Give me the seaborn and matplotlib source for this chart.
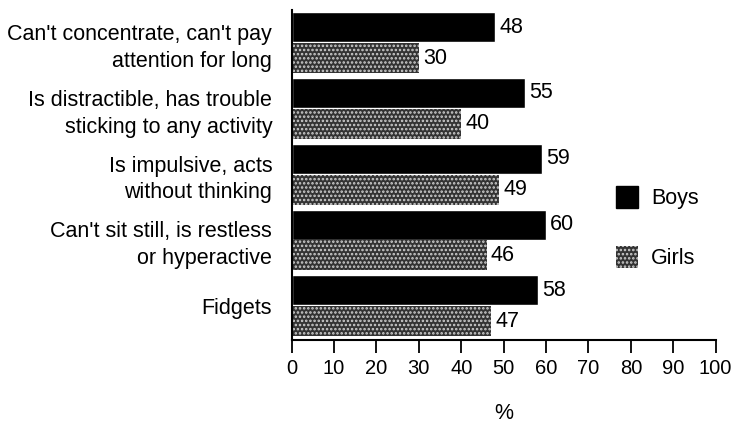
import pandas as pd
import numpy as np
import matplotlib.pyplot as plt
import seaborn as sns
from matplotlib.patches import Patch

# Data
behaviours = [
    "Can't concentrate, can't pay\nattention for long",
    "Is distractible, has trouble\nsticking to any activity",
    "Is impulsive, acts\nwithout thinking",
    "Can't sit still, is restless\nor hyperactive",
    "Fidgets",
]
boys = [48, 55, 59, 60, 58]
girls = [30, 40, 49, 46, 47]
groups = ["Boys", "Girls"]
x_ticks = list(range(0, 101, 10))

sns.set_style("white")
plt.rcParams["font.family"] = ["Liberation Sans", "DejaVu Sans"]
plt.rcParams["text.color"] = "black"
plt.rcParams["xtick.color"] = "black"
plt.rcParams["ytick.color"] = "black"
plt.rcParams["axes.labelcolor"] = "black"
plt.rcParams["hatch.linewidth"] = 1.2

FS = 15.5

df = pd.DataFrame({
    "behaviour": behaviours * 2,
    "pct": boys + girls,
    "sex": ["Boys"] * len(boys) + ["Girls"] * len(girls),
})

fig = plt.figure(figsize=(7.31, 4.26), dpi=100)
ax = fig.add_axes([0.399, 0.202, 0.58, 0.775])

sns.barplot(data=df, y="behaviour", x="pct", hue="sex", orient="h",
            palette={"Boys": "black", "Girls": "#333333"},
            width=0.94, gap=0.03, ax=ax, legend=False)

# stippled look for girls
for bar in ax.containers[1]:
    bar.set_hatch("....")
    bar.set_edgecolor("#cfcfcf")
    bar.set_linewidth(0)

for cont in ax.containers:
    ax.bar_label(cont, padding=3, fontsize=FS)

ax.set_xlim(0, 100)
ax.set_ylim(4.52, -0.5)
ax.set_xticks(x_ticks)
ax.tick_params(axis="x", direction="out", length=9, width=1.3, labelsize=14.5,
               pad=5, bottom=True)
ax.tick_params(axis="y", length=0, labelsize=FS, pad=14)
for lbl in ax.get_yticklabels():
    lbl.set_linespacing(1.35)
ax.set_ylabel("")
ax.set_xlabel("%", fontsize=FS, labelpad=18)

sns.despine(ax=ax, top=True, right=True)
for s in ["left", "bottom"]:
    ax.spines[s].set_linewidth(1.5)
    ax.spines[s].set_color("black")

handles = [Patch(facecolor="black", edgecolor="black"),
           Patch(facecolor="#333333", edgecolor="#cfcfcf", hatch="....", linewidth=0)]
ax.legend(handles, groups, loc="center left", bbox_to_anchor=(0.72, 0.34),
          frameon=False, fontsize=FS, labelspacing=1.7, handlelength=1.0,
          handleheight=1.2, handletextpad=0.6)

fig.savefig("out.png", dpi=100)
